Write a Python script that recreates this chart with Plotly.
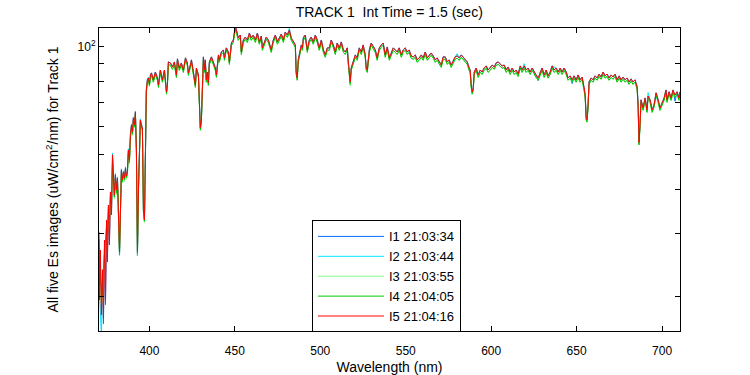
import plotly.graph_objects as go

wavelength = [
    370.5, 370.8, 371.3, 371.9, 372.5, 373.1, 373.7, 374.3, 374.9, 375.4,
    376.0, 376.6, 377.2, 377.8, 378.4, 378.9, 379.5, 380.1, 380.7, 381.3,
    381.9, 382.5, 383.0, 383.6, 384.2, 384.8, 385.4, 386.0, 386.5, 387.1,
    387.7, 388.3, 388.9, 389.5, 390.1, 390.6, 391.2, 391.8, 392.4, 393.0,
    393.6, 394.2, 394.7, 395.3, 395.9, 396.5, 397.1, 397.7, 398.2, 398.8,
    399.4, 400.0, 400.6,
    401.2, 402.3, 403.5, 404.7, 405.3, 406.4, 407.6, 408.8, 410.0, 410.5,
    411.1, 412.3, 413.5, 414.6, 415.8, 416.4, 417.5, 418.7, 419.9, 421.1,
    422.2, 422.8, 424.0, 424.6, 425.7, 426.9, 427.5, 428.7, 429.2, 429.8,
    430.4, 431.0, 431.6, 432.2, 432.7, 433.3, 433.9, 434.5, 435.1, 436.3,
    437.4, 438.6, 439.2, 440.4, 440.9, 442.1, 443.3, 443.9, 445.0, 446.2,
    446.8, 448.0, 449.1, 450.3, 450.9, 452.0, 453.2, 453.8, 455.0, 456.1,
    457.3, 458.5, 459.6, 460.8, 462.0, 463.2, 464.3, 465.5, 466.1, 467.3,
    468.4, 469.6, 470.8, 471.3, 472.5, 473.7, 474.9, 476.0, 477.2, 478.4,
    479.5, 480.7, 481.9, 483.0, 484.2, 485.4, 485.9, 486.5, 487.1, 487.7,
    488.9, 489.5, 490.1, 491.2, 491.8, 492.4, 493.6, 494.7, 495.9, 497.1,
    498.2, 499.4, 500.6, 501.8, 502.9, 504.1, 505.3, 506.4, 507.6, 508.8,
    509.9, 511.1, 512.3, 513.5, 514.6, 515.8, 516.4, 517.0, 517.5, 518.1,
    519.3, 520.5, 521.6, 522.8, 524.0, 525.1, 526.3, 526.9, 527.5, 528.7,
    529.8, 531.0, 532.2, 533.3, 534.5, 535.7, 536.8, 538.0, 539.2, 540.4,
    541.5, 542.7, 543.9, 545.0, 546.2, 547.4, 548.5, 549.7, 550.9, 552.0,
    553.2, 554.4, 555.6, 556.7, 557.9, 559.1, 560.2, 561.4, 562.6, 563.7,
    564.9, 566.1, 567.3, 568.4, 569.6, 570.8, 571.9, 573.1, 574.3, 575.4,
    576.6, 577.8, 578.9, 580.1, 581.3, 582.5, 583.6, 584.8, 586.0, 587.1,
    587.7, 588.3, 588.9, 589.5, 590.1, 591.2, 592.4, 593.6, 594.7, 595.9,
    597.1, 598.2, 599.4, 600.6, 601.8, 602.9, 604.1, 605.3, 606.4, 607.6,
    608.8, 609.9, 611.1, 612.3, 613.5, 614.6, 615.8, 617.0, 618.1, 619.3,
    620.5, 621.6, 622.8, 624.0, 625.1, 626.3, 627.5, 628.7, 629.8, 631.0,
    632.2, 633.3, 634.5, 635.7, 636.8, 638.0, 639.2, 640.4, 641.5, 642.7,
    643.9, 645.0, 646.2, 647.4, 648.5, 649.7, 650.9, 652.0, 653.2, 654.4,
    655.0, 655.6, 656.1, 656.7, 657.3, 658.5, 659.6, 660.8, 662.0, 663.2,
    664.3, 665.5, 666.7, 667.8, 669.0, 670.2, 671.3, 672.5, 673.7, 674.9,
    676.0, 677.2, 678.4, 679.5, 680.7, 681.9, 683.0, 684.2, 684.8, 685.4,
    686.0, 686.5, 687.1, 687.7, 688.9, 690.1, 691.2, 691.8, 693.0, 694.2,
    695.3, 696.5, 697.7, 698.8, 700.0, 701.2, 702.3, 702.9, 704.1, 705.3,
    706.4, 707.6, 708.8, 709.9, 710.5,
]

i5 = [
    30.4, 19.6, 27.0, 17.8, 23.8, 17.4, 28.8, 19.6, 32.8, 25.0,
    36.1, 27.9, 39.3, 33.9, 49.9, 43.0, 38.5, 43.9, 39.8, 43.0,
    36.1, 26.7, 33.9, 45.3, 42.5, 44.7, 43.0, 45.9, 43.6, 44.7,
    51.5, 48.3, 56.8, 60.5, 57.9, 63.3, 60.5, 65.8, 51.5, 26.7,
    40.3, 58.6, 62.5, 60.5, 59.4, 35.0, 32.8, 51.5, 75.8, 80.9,
    81.9, 79.0, 83.5,
    84.6, 80.9, 85.1, 81.9, 78.3, 86.2, 80.9, 86.2, 74.9, 78.3,
    90.8, 90.2, 87.9, 90.8, 83.5, 92.6, 87.3, 90.2, 86.2, 93.2,
    90.2, 84.6, 89.0, 92.0, 85.1, 78.3, 87.3, 83.5, 71.1, 59.4,
    62.5, 79.3, 93.8, 86.2, 92.0, 80.9, 85.1, 79.3, 90.8, 93.8,
    90.8, 87.3, 83.5, 95.0, 92.0, 96.8, 98.1, 93.2, 99.4, 96.8,
    90.8, 102.6, 104.6, 114.0, 111.6, 106.0, 108.0, 96.8, 104.6, 106.6,
    104.6, 109.4, 106.0, 108.0, 104.6, 109.4, 103.3, 107.3, 99.4, 103.3,
    106.6, 104.6, 99.4, 98.1, 104.6, 108.0, 103.3, 106.0, 108.7, 104.6,
    110.1, 108.0, 111.6, 106.0, 103.3, 101.3, 85.1, 81.9, 92.0, 95.0,
    101.3, 99.4, 106.0, 108.0, 101.3, 98.1, 104.6, 106.6, 103.3, 108.0,
    104.6, 99.4, 104.6, 98.1, 95.0, 99.4, 99.4, 104.6, 101.3, 96.8,
    102.6, 99.4, 103.3, 98.1, 96.8, 99.4, 90.8, 80.9, 79.8, 87.3,
    90.8, 95.0, 93.2, 99.4, 96.8, 101.3, 95.0, 87.3, 86.2, 98.1,
    102.6, 100.0, 98.1, 93.2, 99.4, 101.3, 102.6, 95.0, 100.0, 93.2,
    96.8, 99.4, 98.1, 96.8, 99.4, 95.0, 98.1, 99.4, 96.8, 98.1,
    94.4, 93.8, 95.0, 92.0, 93.2, 95.0, 93.2, 96.8, 93.2, 95.0,
    96.2, 94.4, 92.0, 93.2, 90.8, 89.0, 93.8, 93.8, 90.8, 92.0,
    89.0, 92.0, 93.8, 94.4, 93.2, 95.0, 93.8, 92.0, 90.8, 87.3,
    86.2, 78.3, 74.9, 76.8, 85.1, 87.3, 83.5, 86.2, 85.1, 87.3,
    88.5, 86.2, 87.3, 89.0, 87.9, 90.2, 90.8, 89.6, 88.5, 89.0,
    86.2, 87.9, 85.1, 87.3, 85.1, 86.2, 84.0, 88.5, 86.2, 88.5,
    86.2, 87.3, 85.1, 87.3, 85.1, 83.5, 81.9, 85.1, 87.3, 83.5,
    86.2, 83.0, 85.1, 88.5, 86.2, 87.3, 85.1, 87.3, 85.1, 87.3,
    85.1, 81.9, 83.0, 80.9, 83.0, 80.9, 83.5, 80.9, 82.4, 76.8,
    73.4, 63.3, 62.5, 68.8, 79.8, 81.9, 80.9, 83.0, 81.9, 84.0,
    82.4, 85.1, 83.0, 84.0, 81.9, 83.5, 82.4, 84.0, 80.9, 83.0,
    80.9, 82.4, 80.9, 81.9, 79.8, 81.4, 79.8, 80.9, 78.3, 77.3,
    68.8, 54.0, 60.5, 71.1, 67.5, 72.0, 66.6, 72.9, 71.1, 66.6,
    68.8, 74.4, 71.1, 67.5, 69.7, 72.0, 75.8, 71.1, 74.9, 72.0,
    75.8, 73.4, 74.9, 72.0, 74.9,
]

i4 = [
    27.5, 24.5, 22.0, 21.5, 20.0, 24.0, 26.5, 28.0, 31.5, 30.0,
    34.5, 33.0, 38.0, 36.5, 47.5, 42.0, 38.0, 43.0, 39.0, 42.0,
    35.5, 26.2, 35.0, 44.5, 42.0, 44.0, 42.5, 45.0, 43.0, 44.0,
    50.5, 47.5, 55.8, 59.5, 57.0, 62.2, 59.8, 64.8, 51.0, 26.3,
    40.0, 57.8, 61.6, 59.8, 58.6, 34.6, 32.5, 51.0, 74.6, 79.7,
    80.7, 77.9, 82.3,
    83.3, 79.7, 83.8, 80.7, 77.1, 84.9, 79.7, 84.9, 73.8, 77.1,
    89.4, 88.8, 86.6, 89.4, 82.2, 91.2, 86.0, 88.8, 84.9, 91.8,
    88.8, 83.3, 87.7, 90.6, 83.8, 77.1, 86.0, 82.2, 70.0, 58.5,
    61.6, 78.1, 92.4, 84.9, 90.6, 79.7, 83.8, 78.1, 89.4, 92.4,
    89.4, 86.0, 82.2, 93.6, 90.6, 95.3, 96.6, 91.8, 97.9, 95.3,
    89.4, 101.1, 103.0, 112.3, 109.9, 104.4, 106.4, 95.3, 103.0, 105.0,
    103.0, 107.8, 104.4, 106.4, 103.0, 107.8, 101.8, 105.7, 97.9, 101.8,
    105.0, 103.0, 97.9, 96.6, 103.0, 106.4, 101.8, 104.4, 107.1, 103.0,
    108.4, 106.4, 109.9, 104.4, 101.8, 99.8, 83.8, 80.7, 90.6, 93.6,
    99.8, 97.9, 104.4, 106.4, 99.8, 96.6, 103.0, 105.0, 101.8, 106.4,
    103.0, 97.9, 103.0, 96.6, 93.6, 97.9, 97.9, 103.0, 99.8, 95.3,
    101.1, 97.9, 101.8, 96.6, 95.3, 97.9, 89.4, 79.7, 78.6, 86.0,
    89.4, 93.6, 91.8, 97.9, 95.3, 99.8, 93.6, 86.0, 84.9, 96.6,
    101.1, 98.5, 96.6, 91.8, 97.9, 99.8, 101.1, 93.6, 98.5, 91.8,
    95.3, 97.9, 96.6, 95.3, 97.9, 93.6, 96.6, 97.9, 95.3, 96.6,
    93.0, 92.4, 93.6, 90.6, 91.8, 93.6, 91.8, 95.3, 91.8, 93.6,
    94.8, 93.0, 90.6, 91.8, 89.4, 87.7, 92.4, 92.4, 89.4, 90.6,
    87.7, 90.6, 92.4, 93.0, 91.8, 93.6, 92.4, 90.6, 89.4, 86.0,
    84.9, 77.1, 73.8, 75.6, 83.8, 86.0, 82.2, 84.9, 83.8, 86.0,
    87.2, 84.9, 86.0, 87.7, 86.6, 88.8, 89.4, 88.3, 87.2, 87.7,
    84.9, 86.6, 83.8, 86.0, 83.8, 84.9, 82.7, 87.2, 84.9, 87.2,
    84.9, 86.0, 83.8, 86.0, 83.8, 82.2, 80.7, 83.8, 86.0, 82.2,
    84.9, 81.8, 83.8, 87.2, 84.9, 86.0, 83.8, 86.0, 83.8, 86.0,
    83.8, 80.7, 81.8, 79.7, 81.8, 79.7, 82.2, 79.7, 81.2, 75.6,
    72.3, 62.4, 61.6, 67.8, 78.6, 80.7, 79.7, 81.8, 80.7, 82.7,
    81.2, 83.8, 81.8, 82.7, 80.7, 82.2, 81.2, 82.7, 79.7, 81.8,
    79.7, 81.2, 79.7, 80.7, 78.6, 80.2, 78.6, 79.7, 77.1, 76.1,
    67.8, 53.2, 59.6, 70.0, 66.5, 70.9, 65.6, 71.8, 70.0, 65.6,
    67.8, 73.3, 70.0, 66.5, 68.7, 70.9, 74.7, 70.0, 73.8, 70.9,
    74.7, 72.3, 73.8, 70.9, 73.8,
]

i3 = [
    26.0, 22.5, 20.0, 19.0, 19.5, 21.0, 25.0, 26.0, 29.5, 28.5,
    33.0, 31.0, 36.5, 35.0, 46.0, 41.0, 37.5, 42.5, 38.5, 41.5,
    35.0, 26.0, 34.5, 44.0, 41.6, 43.6, 42.0, 44.6, 42.6, 43.6,
    50.0, 47.0, 55.4, 59.0, 56.6, 61.8, 59.4, 64.4, 50.7, 26.1,
    39.8, 57.4, 61.2, 59.4, 58.2, 34.4, 32.3, 50.6, 74.2, 79.3,
    80.3, 77.5, 81.9,
    83.3, 79.7, 83.8, 80.7, 77.1, 84.9, 79.7, 84.9, 73.8, 77.1,
    89.4, 88.8, 86.6, 89.4, 82.2, 91.2, 86.0, 88.8, 84.9, 91.8,
    88.8, 83.3, 87.7, 90.6, 83.8, 77.1, 86.0, 82.2, 70.0, 58.5,
    61.6, 78.1, 92.4, 84.9, 90.6, 79.7, 83.8, 78.1, 89.4, 92.4,
    89.4, 86.0, 82.2, 93.6, 90.6, 95.3, 96.6, 91.8, 97.9, 95.3,
    89.4, 101.1, 103.0, 112.3, 109.9, 104.4, 106.4, 95.3, 103.0, 105.0,
    103.0, 107.8, 104.4, 106.4, 103.0, 107.8, 101.8, 105.7, 97.9, 101.8,
    105.0, 103.0, 97.9, 96.6, 103.0, 106.4, 101.8, 104.4, 107.1, 103.0,
    108.4, 106.4, 109.9, 104.4, 101.8, 99.8, 83.8, 80.7, 90.6, 93.6,
    99.8, 97.9, 104.4, 106.4, 99.8, 96.6, 103.0, 105.0, 101.8, 106.4,
    103.0, 97.9, 103.0, 96.6, 93.6, 97.9, 97.9, 103.0, 99.8, 95.3,
    101.1, 97.9, 101.8, 96.6, 95.3, 97.9, 89.4, 79.7, 77.8, 86.0,
    89.4, 93.6, 91.8, 97.9, 95.3, 99.8, 93.6, 86.0, 84.9, 96.6,
    101.1, 98.5, 96.6, 91.8, 97.9, 99.8, 101.1, 93.6, 98.5, 91.8,
    95.3, 97.9, 96.6, 95.3, 97.9, 93.6, 96.6, 97.9, 95.3, 96.6,
    93.0, 92.4, 93.6, 90.6, 91.8, 93.6, 91.8, 95.3, 91.8, 93.6,
    94.8, 93.0, 90.6, 91.8, 89.4, 87.7, 92.4, 92.4, 89.4, 90.6,
    87.7, 90.6, 92.4, 93.0, 91.8, 93.6, 92.4, 90.6, 89.4, 86.0,
    84.9, 77.1, 73.8, 75.6, 83.8, 86.0, 82.2, 84.9, 83.8, 86.0,
    87.2, 84.9, 86.0, 87.7, 86.6, 88.8, 89.4, 88.3, 87.2, 87.7,
    84.9, 86.6, 83.8, 86.0, 83.8, 84.9, 82.7, 87.2, 84.9, 87.2,
    84.9, 86.0, 83.8, 86.0, 83.8, 82.2, 80.7, 83.8, 86.0, 82.2,
    84.9, 81.8, 83.8, 87.2, 84.9, 86.0, 83.8, 86.0, 83.8, 86.0,
    83.8, 80.7, 81.8, 79.7, 81.8, 79.7, 82.2, 79.7, 81.2, 74.5,
    72.3, 62.4, 61.6, 67.8, 78.6, 80.7, 79.7, 81.8, 80.7, 82.7,
    81.2, 83.8, 81.8, 82.7, 80.7, 82.2, 81.2, 82.7, 79.7, 81.8,
    79.7, 81.2, 79.7, 80.7, 78.6, 80.2, 78.6, 79.7, 77.1, 76.1,
    67.8, 53.2, 59.6, 70.0, 66.5, 70.9, 65.6, 71.8, 70.0, 65.6,
    67.8, 73.3, 70.0, 66.5, 68.7, 70.9, 74.7, 70.0, 73.8, 70.9,
    74.7, 72.3, 73.8, 70.9, 73.8,
]

i2 = [
    22.0, 20.5, 18.0, 15.5, 22.0, 19.0, 27.0, 22.0, 31.0, 27.0,
    35.0, 29.0, 38.5, 34.5, 50.5, 43.3, 38.8, 44.2, 40.1, 43.3,
    36.4, 26.9, 34.2, 45.6, 42.8, 45.0, 43.3, 46.2, 43.9, 45.0,
    51.9, 48.6, 57.2, 60.9, 58.3, 63.7, 60.9, 66.2, 51.8, 26.9,
    40.6, 59.0, 62.9, 60.9, 59.8, 35.2, 33.0, 51.8, 76.2, 81.3,
    82.3, 79.4, 83.9,
    84.6, 80.9, 85.1, 81.9, 78.3, 86.2, 80.9, 86.2, 74.9, 78.3,
    90.8, 90.2, 87.9, 90.8, 83.5, 92.6, 87.3, 90.2, 86.2, 93.2,
    90.2, 84.6, 89.0, 92.0, 85.1, 78.3, 87.3, 83.5, 71.1, 59.4,
    62.5, 79.3, 93.8, 86.2, 92.0, 80.9, 85.1, 79.3, 90.8, 93.8,
    90.8, 87.3, 83.5, 95.0, 92.0, 96.8, 98.1, 93.2, 99.4, 96.8,
    90.8, 102.6, 104.6, 115.5, 111.6, 106.0, 108.0, 96.8, 104.6, 106.6,
    104.6, 109.4, 106.0, 108.0, 104.6, 109.4, 103.3, 107.3, 99.4, 103.3,
    106.6, 104.6, 99.4, 98.1, 104.6, 108.0, 103.3, 106.0, 108.7, 104.6,
    110.1, 108.0, 112.8, 106.0, 103.3, 101.3, 85.1, 81.9, 92.0, 95.0,
    101.3, 99.4, 107.2, 108.0, 101.3, 98.1, 104.6, 106.6, 103.3, 108.0,
    104.6, 99.4, 104.6, 98.1, 95.0, 99.4, 99.4, 104.6, 101.3, 96.8,
    102.6, 99.4, 103.3, 98.1, 96.8, 99.4, 90.8, 80.9, 79.8, 87.3,
    90.8, 95.0, 93.2, 99.4, 96.8, 101.3, 95.0, 87.3, 86.2, 98.1,
    102.6, 100.0, 98.1, 93.2, 99.4, 101.3, 102.6, 95.0, 100.0, 93.2,
    96.8, 99.4, 98.1, 96.8, 99.4, 95.0, 98.1, 99.4, 96.8, 98.1,
    94.4, 93.8, 95.0, 92.0, 93.2, 95.0, 93.2, 96.8, 93.2, 95.0,
    96.2, 94.4, 92.0, 93.2, 90.8, 89.0, 93.8, 93.8, 90.8, 92.0,
    89.0, 92.0, 93.8, 95.8, 93.2, 95.0, 93.8, 92.0, 90.8, 87.3,
    86.2, 78.3, 74.9, 76.8, 85.1, 87.3, 83.5, 86.2, 85.1, 87.3,
    88.5, 86.2, 87.3, 89.0, 87.9, 90.2, 90.8, 89.6, 88.5, 89.0,
    86.2, 87.9, 85.1, 87.3, 85.1, 86.2, 84.0, 88.5, 86.2, 89.8,
    86.2, 87.3, 85.1, 87.3, 85.1, 83.5, 81.9, 85.1, 87.3, 83.5,
    86.2, 83.0, 85.1, 88.5, 87.8, 87.3, 85.1, 87.3, 85.1, 87.3,
    85.1, 81.9, 83.0, 80.9, 83.0, 80.9, 83.5, 80.9, 82.4, 76.8,
    73.4, 63.3, 62.5, 68.8, 79.8, 81.9, 80.9, 83.0, 81.9, 84.0,
    82.4, 85.1, 83.0, 84.0, 81.9, 83.5, 82.4, 84.0, 80.9, 83.0,
    80.9, 82.4, 80.9, 81.9, 79.8, 81.4, 79.8, 80.9, 78.3, 77.3,
    68.8, 53.5, 60.5, 71.1, 67.5, 72.0, 66.6, 74.5, 71.1, 66.6,
    68.8, 74.4, 71.1, 67.5, 69.7, 72.0, 75.8, 71.1, 74.9, 72.0,
    75.8, 73.4, 74.9, 72.0, 74.9,
]

i1 = [
    29.0, 20.5, 25.0, 18.0, 22.5, 16.8, 27.5, 19.0, 32.0, 25.5,
    35.5, 28.0, 39.0, 34.0, 49.0, 42.7, 38.2, 43.6, 39.5, 42.7,
    35.6, 26.0, 33.6, 45.0, 42.2, 44.4, 42.7, 45.6, 43.3, 44.4,
    51.2, 48.0, 56.5, 60.2, 57.6, 63.0, 60.2, 65.5, 51.2, 26.0,
    40.0, 58.3, 62.2, 60.2, 59.1, 34.8, 32.6, 51.2, 75.5, 80.6,
    81.6, 78.7, 83.2,
    84.6, 80.9, 85.1, 81.9, 78.3, 86.2, 80.9, 86.2, 74.9, 78.3,
    90.8, 90.2, 87.9, 90.8, 83.5, 92.6, 87.3, 90.2, 86.2, 93.2,
    90.2, 84.6, 89.0, 92.0, 85.1, 78.3, 87.3, 83.5, 71.1, 59.4,
    62.5, 79.3, 93.8, 86.2, 92.0, 80.9, 85.1, 79.3, 90.8, 93.8,
    90.8, 87.3, 83.5, 95.0, 92.0, 96.8, 98.1, 93.2, 99.4, 96.8,
    90.8, 102.6, 104.6, 114.0, 111.6, 106.0, 108.0, 96.8, 104.6, 106.6,
    104.6, 109.4, 106.0, 108.0, 104.6, 109.4, 103.3, 107.3, 99.4, 103.3,
    106.6, 104.6, 99.4, 98.1, 104.6, 108.0, 103.3, 106.0, 108.7, 104.6,
    110.1, 108.0, 111.6, 106.0, 103.3, 101.3, 85.1, 81.9, 92.0, 95.0,
    101.3, 99.4, 106.0, 108.0, 101.3, 98.1, 104.6, 106.6, 103.3, 108.0,
    104.6, 99.4, 104.6, 98.1, 95.0, 99.4, 99.4, 104.6, 101.3, 96.8,
    102.6, 99.4, 103.3, 98.1, 96.8, 99.4, 90.8, 80.9, 79.8, 87.3,
    90.8, 95.0, 93.2, 99.4, 96.8, 101.3, 95.0, 87.3, 86.2, 98.1,
    102.6, 100.0, 98.1, 93.2, 99.4, 101.3, 102.6, 95.0, 100.0, 93.2,
    96.8, 99.4, 98.1, 96.8, 99.4, 95.0, 98.1, 99.4, 96.8, 98.1,
    94.4, 93.8, 95.0, 92.0, 93.2, 95.0, 93.2, 96.8, 93.2, 95.0,
    96.2, 94.4, 92.0, 93.2, 90.8, 89.0, 93.8, 93.8, 90.8, 92.0,
    89.0, 92.0, 93.8, 94.4, 93.2, 95.0, 93.8, 92.0, 90.8, 87.3,
    86.2, 78.3, 74.2, 76.8, 85.1, 87.3, 83.5, 86.2, 85.1, 87.3,
    88.5, 86.2, 87.3, 89.0, 87.9, 90.2, 90.8, 89.6, 88.5, 89.0,
    86.2, 87.9, 85.1, 87.3, 85.1, 86.2, 84.0, 88.5, 86.2, 88.5,
    86.2, 87.3, 85.1, 87.3, 85.1, 83.5, 80.5, 85.1, 87.3, 83.5,
    86.2, 83.0, 85.1, 88.5, 86.2, 87.3, 85.1, 87.3, 85.1, 87.3,
    85.1, 81.9, 83.0, 79.0, 83.0, 80.9, 83.5, 80.9, 82.4, 76.8,
    73.4, 63.3, 62.5, 68.8, 79.8, 81.9, 80.9, 83.0, 81.9, 84.0,
    82.4, 85.1, 83.0, 84.0, 81.9, 83.5, 82.4, 84.0, 80.9, 83.0,
    80.9, 82.4, 80.9, 81.9, 79.8, 81.4, 79.8, 80.9, 78.3, 77.3,
    68.8, 54.0, 60.5, 71.1, 67.5, 72.0, 66.6, 72.9, 71.1, 66.6,
    68.8, 74.4, 71.1, 67.5, 69.7, 72.0, 75.8, 71.1, 74.9, 72.0,
    75.8, 70.5, 74.9, 72.0, 74.9,
]

series_names = ["I1 21:03:34", "I2 21:03:44", "I3 21:03:55", "I4 21:04:05", "I5 21:04:16"]
series_values = [i1, i2, i3, i4, i5]
series_colors = ["#0070ff", "#00e5ff", "#88f888", "#00c800", "#ff0000"]

x_ticks = [400, 450, 500, 550, 600, 650, 700]
y_major_ticks = [100]
y_major_text = ["10<sup>2</sup>"]
y_minor_ticks = [20, 30, 40, 50, 60, 70, 80, 90]

fig = go.Figure()
for name, vals, col in zip(series_names, series_values, series_colors):
    fig.add_trace(go.Scatter(x=wavelength, y=vals, mode="lines", name=name,
                             line=dict(color=col, width=1)))

FONT = "Liberation Sans, Arial, Helvetica, sans-serif"
fig.update_layout(
    width=750, height=375,
    margin=dict(l=99, r=70, t=28, b=44),
    paper_bgcolor="white", plot_bgcolor="white",
    font=dict(family=FONT, size=14, color="black"),
    title=dict(text="TRACK 1\u00a0 Int Time = 1.5 (sec)", x=0.519, xanchor="center",
               y=0.968, yanchor="middle", font=dict(size=14, color="black")),
    showlegend=True,
    legend=dict(x=0.3666, y=0.18, xanchor="left", yanchor="middle",
                bordercolor="black", borderwidth=1, bgcolor="white",
                font=dict(size=13, color="black"), itemwidth=66,
                tracegroupgap=0),
    xaxis=dict(range=[370.5, 710.5], tickvals=x_ticks, ticks="inside", ticklen=5,
               tickcolor="black", showline=True, linecolor="black", linewidth=1,
               mirror="ticks", showgrid=False, zeroline=False, automargin=False,
               tickfont=dict(size=12), ticklabelstandoff=9,
               title=dict(text="Wavelength (nm)", font=dict(size=14), standoff=8)),
    yaxis=dict(type="log", range=[1.2049, 2.0531], tickvals=y_major_ticks,
               ticktext=y_major_text, ticks="inside", ticklen=5, tickcolor="black",
               minor=dict(tickvals=y_minor_ticks, ticks="inside", ticklen=5,
                          tickcolor="black", showgrid=False),
               showline=True, linecolor="black", linewidth=1, mirror="ticks",
               showgrid=False, zeroline=False, automargin=False, tickfont=dict(size=12),
               title=dict(text="All five Es images (uW/cm<sup>2</sup>/nm) for Track 1",
                          font=dict(size=14), standoff=15)),
)

fig.write_html("out.html", config={"displayModeBar": False},
               post_script="document.body.style.margin='0px';")
